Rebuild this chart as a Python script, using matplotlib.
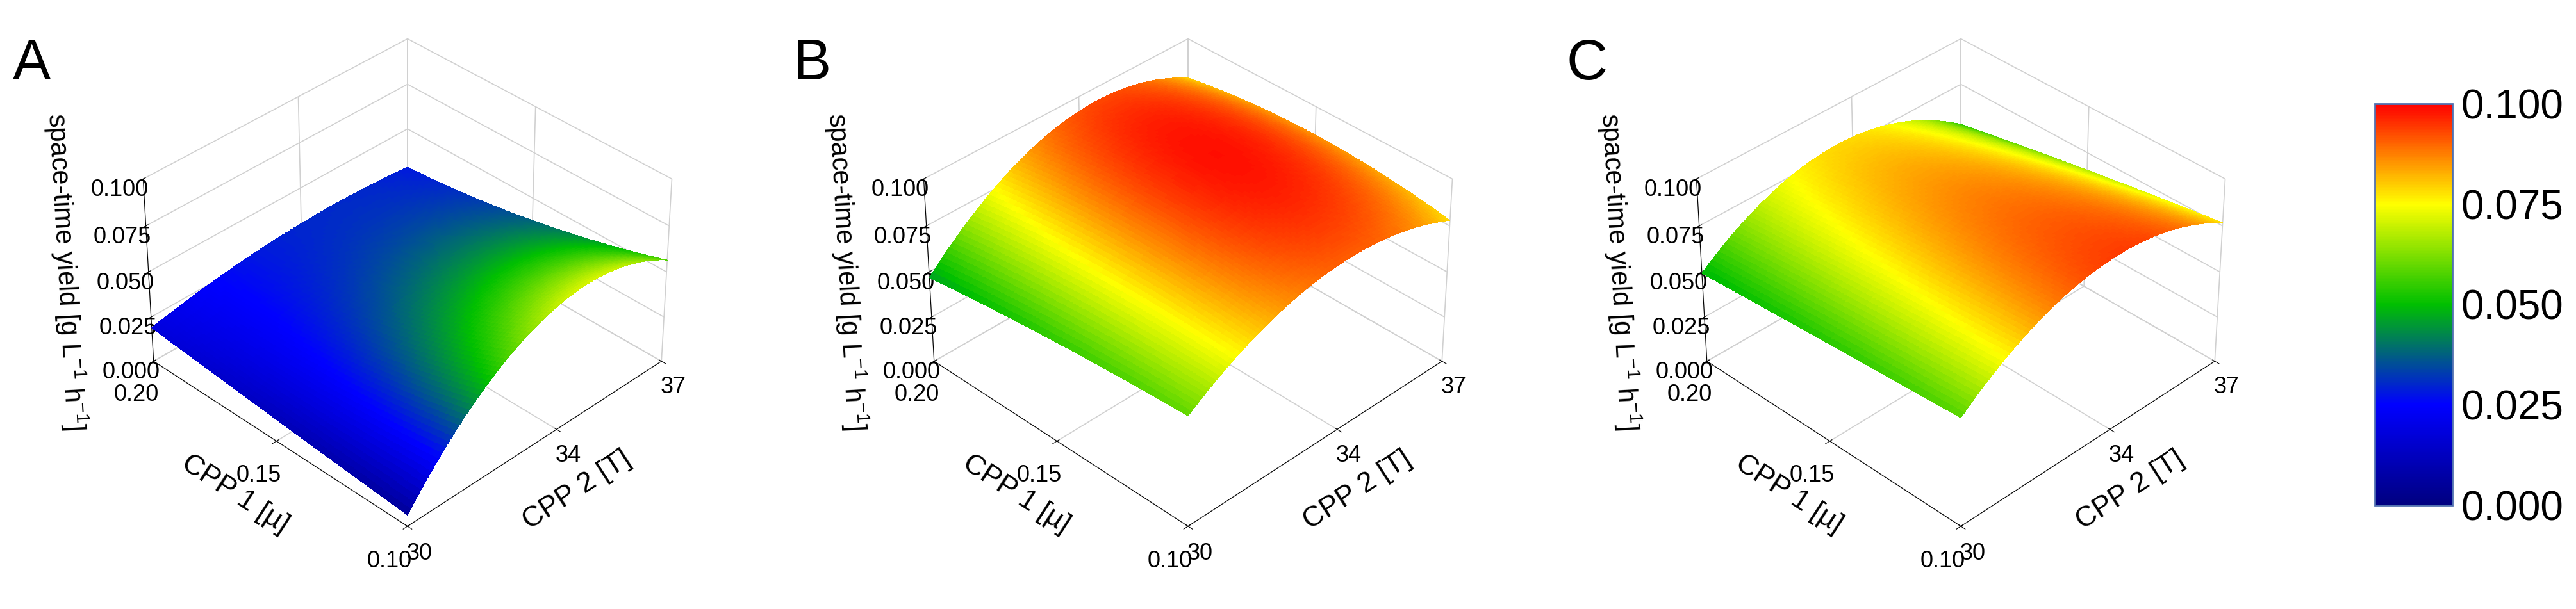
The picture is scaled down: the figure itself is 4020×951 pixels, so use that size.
import numpy as np
import matplotlib
matplotlib.use("Agg")
import matplotlib.pyplot as plt
from matplotlib.colors import LinearSegmentedColormap, Normalize

plt.rcParams["font.family"] = ["Liberation Sans", "DejaVu Sans"]
plt.rcParams["mathtext.fontset"] = "custom"
plt.rcParams["mathtext.rm"] = "Liberation Sans"

mu = [0.10, 0.125, 0.15, 0.175, 0.20]
temp = [30, 31.75, 33.5, 35.25, 37]
# rows: mu, columns: temperature
zA = [[0.012, 0.034, 0.064, 0.082, 0.050],
      [0.013, 0.028, 0.050, 0.066, 0.042],
      [0.015, 0.024, 0.036, 0.045, 0.034],
      [0.017, 0.023, 0.031, 0.038, 0.030],
      [0.020, 0.024, 0.029, 0.033, 0.027]]
zB = [[0.060, 0.080, 0.090, 0.090, 0.078],
      [0.058, 0.082, 0.094, 0.095, 0.082],
      [0.055, 0.082, 0.096, 0.098, 0.085],
      [0.052, 0.080, 0.095, 0.097, 0.083],
      [0.047, 0.075, 0.090, 0.092, 0.078]]
zC = [[0.060, 0.080, 0.092, 0.095, 0.075],
      [0.058, 0.078, 0.090, 0.090, 0.070],
      [0.055, 0.076, 0.086, 0.085, 0.065],
      [0.052, 0.073, 0.082, 0.080, 0.058],
      [0.050, 0.070, 0.078, 0.074, 0.052]]
panels = ["A", "B", "C"]
cbar_ticks = [0.000, 0.025, 0.050, 0.075, 0.100]

cmap = LinearSegmentedColormap.from_list("rsm", [(0, "#000080"), (0.25, "#0000ff"), (0.5, "#00c000"),
                                                (0.75, "#ffff00"), (1.0, "#ff0000")])
norm = Normalize(0, 0.1)

def smooth(z):
    M, Tt = np.meshgrid(mu, temp, indexing="ij")
    a = (M - 0.15) / 0.05; b = (Tt - 33.5) / 3.5
    def basis(a, b):
        return np.stack([a**i * b**j for i in range(3) for j in range(3)], -1)
    coef, *_ = np.linalg.lstsq(basis(a, b).reshape(-1, 9), np.array(z).ravel(), rcond=None)
    mf = np.linspace(0.10, 0.20, 80); tf = np.linspace(30, 37, 80)
    MF, TF = np.meshgrid(mf, tf, indexing="ij")
    ZF = basis((MF - 0.15) / 0.05, (TF - 33.5) / 3.5) @ coef
    return MF, TF, ZF

fig = plt.figure(figsize=(40.2, 9.51), dpi=100)
lefts = [0.005, 0.308, 0.608]
for k, (z, lab) in enumerate(zip([zA, zB, zC], panels)):
    ax = fig.add_axes([lefts[k], 0.04, 0.30, 1.0], projection="3d")
    MF, TF, ZF = smooth(z)
    ax.plot_surface(TF, MF, ZF, facecolors=cmap(norm(ZF)), shade=False, linewidth=0,
                    antialiased=False, rstride=1, cstride=1)
    ax.set_xlim(30, 37); ax.set_ylim(0.10, 0.20); ax.set_zlim(0, 0.1)
    ax.set_xticks([30, 34, 37]); ax.set_yticks([0.10, 0.15, 0.20])
    ax.set_yticklabels(["0.10", "0.15", "0.20"])
    ax.set_zticks(cbar_ticks); ax.set_zticklabels([f"{v:.3f}" for v in cbar_ticks])
    ax.view_init(elev=36, azim=-135)
    ax.set_box_aspect((1.3, 1.3, 0.8), zoom=0.9)
    for a in (ax.xaxis, ax.yaxis, ax.zaxis):
        a.set_pane_color((1, 1, 1, 0))
        a._axinfo["grid"]["color"] = "#d0d0d0"
        a._axinfo["grid"]["linewidth"] = 1.2
    ax.tick_params(labelsize=26, pad=8)
    ax.yaxis.set_tick_params(pad=16)
    ax.set_xlabel("CPP 2 [T]", fontsize=32, labelpad=30)
    ax.set_ylabel("CPP 1 [µ]", fontsize=32, labelpad=34)
    ax.set_zlabel("space-time yield [g L$^{-1}$ h$^{-1}$]", fontsize=30, labelpad=36)
    fig.text(lefts[k] + 0.0, 0.87, lab, fontsize=64)

cax = fig.add_axes([0.922, 0.17, 0.03, 0.66])
sm = matplotlib.cm.ScalarMappable(norm=norm, cmap=cmap)
cb = fig.colorbar(sm, cax=cax, ticks=cbar_ticks)
cb.ax.set_yticklabels([f"{v:.3f}" for v in cbar_ticks])
cb.ax.tick_params(labelsize=46, length=0, pad=10)
cb.outline.set_edgecolor("#5070b0"); cb.outline.set_linewidth(2)
fig.savefig("out.png", dpi=100, facecolor="white")
